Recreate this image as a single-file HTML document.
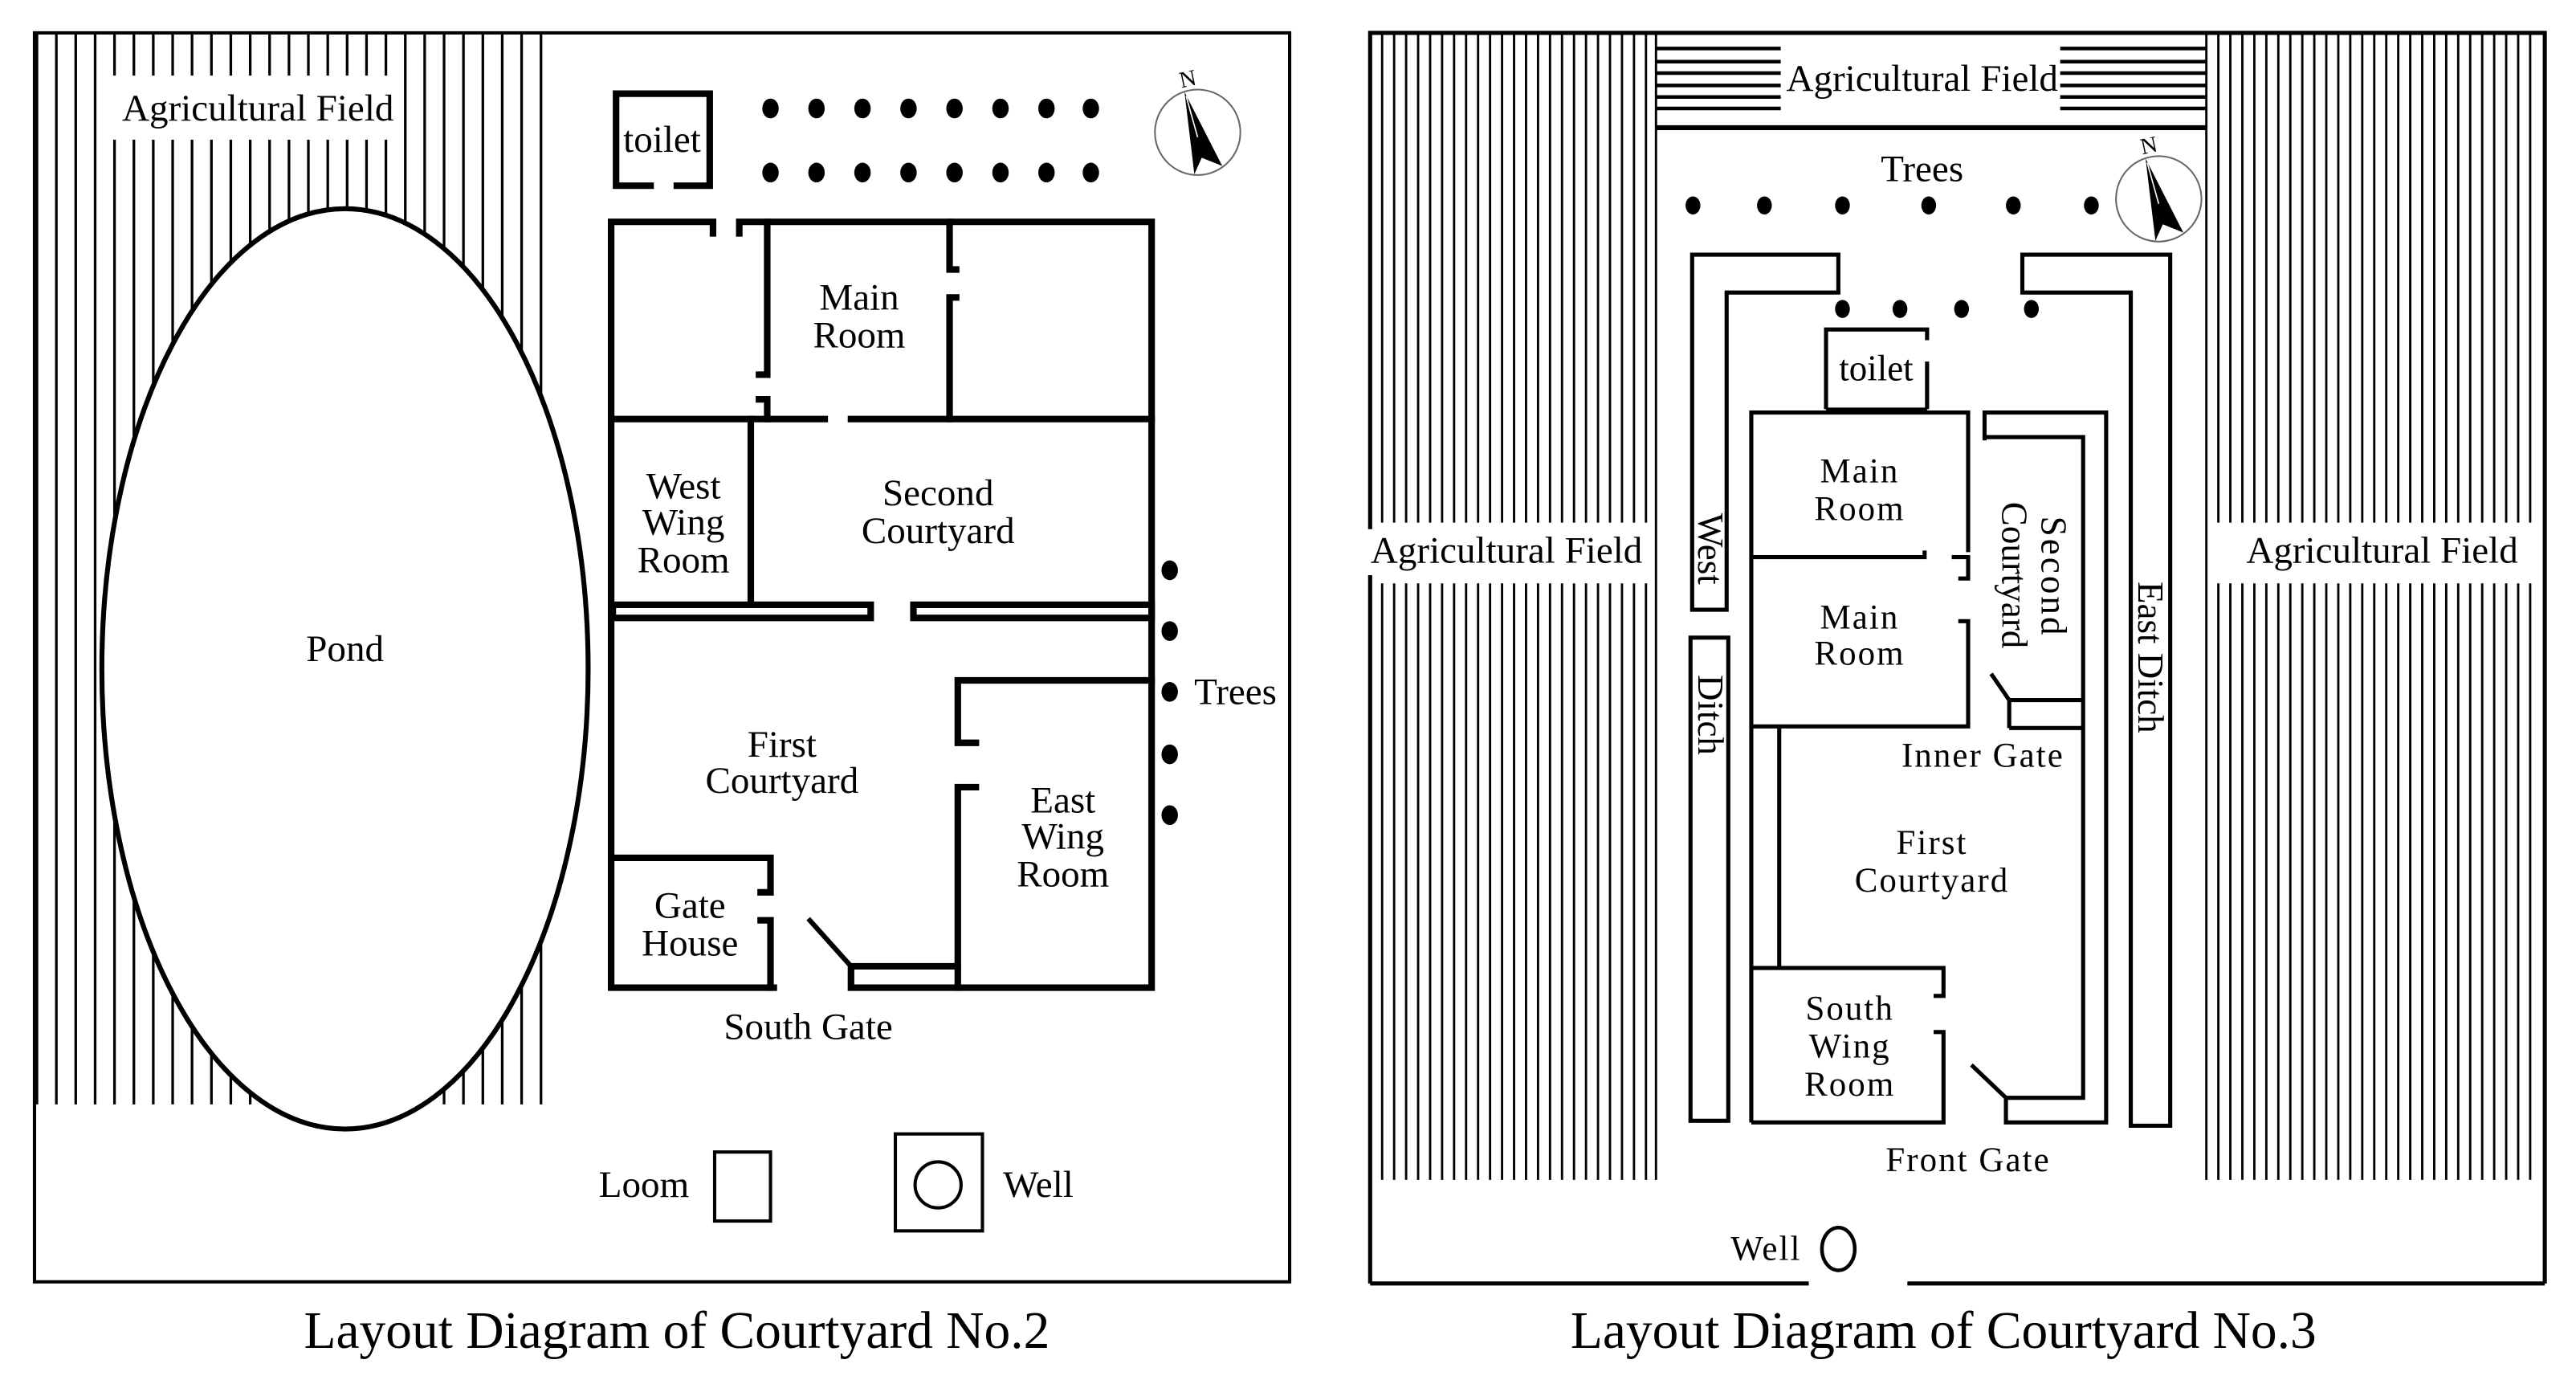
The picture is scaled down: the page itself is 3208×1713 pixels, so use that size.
<!DOCTYPE html>
<html><head><meta charset="utf-8"><style>
html,body{margin:0;padding:0;background:#fff;}
svg{display:block;}
text{font-family:"Liberation Serif",serif;fill:#000;}
</style></head><body>
<svg width="3208" height="1713" viewBox="0 0 1568 837.3" preserveAspectRatio="none" xmlns="http://www.w3.org/2000/svg">
<rect width="1568" height="838" fill="#fff"/>
<defs>
<g id="compass">
<circle cx="0" cy="0" r="26" fill="none" stroke="#666" stroke-width="1"/>
<polygon points="-8,-24.5 -2,25.5 2.5,15.5 15,20.5" fill="#000"/>
<line x1="-7" y1="-22" x2="0" y2="3" stroke="#fff" stroke-width="0.8"/>
<text x="-10" y="-27" font-size="14" font-family="Liberation Sans, sans-serif" transform="rotate(-12 -10 -27)">N</text>
</g>
</defs>

<g stroke="#000" stroke-width="1.6" id="lh"></g>
<ellipse cx="210" cy="407" rx="148" ry="280" fill="#fff" stroke="#000" stroke-width="3"/>
<rect x="21" y="20" width="764" height="760" fill="none" stroke="#000" stroke-width="2"/>
<text x="157" y="66" font-size="23" text-anchor="middle" dominant-baseline="central">Agricultural Field</text>
<text x="210" y="395" font-size="23" text-anchor="middle" dominant-baseline="central">Pond</text>

<path d="M398,113 H375 V57 H432 V113 H410" fill="none" stroke="#000" stroke-width="4"/>
<text x="403" y="85" font-size="23" text-anchor="middle" dominant-baseline="central">toilet</text>

<g fill="#000">
<ellipse cx="469" cy="66" rx="5" ry="6"/><ellipse cx="497" cy="66" rx="5" ry="6"/><ellipse cx="525" cy="66" rx="5" ry="6"/><ellipse cx="553" cy="66" rx="5" ry="6"/><ellipse cx="581" cy="66" rx="5" ry="6"/><ellipse cx="609" cy="66" rx="5" ry="6"/><ellipse cx="637" cy="66" rx="5" ry="6"/><ellipse cx="664" cy="66" rx="5" ry="6"/>
<ellipse cx="469" cy="105" rx="5" ry="6"/><ellipse cx="497" cy="105" rx="5" ry="6"/><ellipse cx="525" cy="105" rx="5" ry="6"/><ellipse cx="553" cy="105" rx="5" ry="6"/><ellipse cx="581" cy="105" rx="5" ry="6"/><ellipse cx="609" cy="105" rx="5" ry="6"/><ellipse cx="637" cy="105" rx="5" ry="6"/><ellipse cx="664" cy="105" rx="5" ry="6"/>
<ellipse cx="712" cy="347" rx="5" ry="6"/><ellipse cx="712" cy="384" rx="5" ry="6"/><ellipse cx="712" cy="421" rx="5" ry="6"/><ellipse cx="712" cy="459" rx="5" ry="6"/><ellipse cx="712" cy="496" rx="5" ry="6"/>
</g>
<use href="#compass" transform="translate(729,80.5)"/>

<g fill="none" stroke="#000" stroke-width="4" stroke-linecap="square">
<path d="M434,142 V135 H372 V601 H471"/>
<path d="M450,142 V135 H701 V601 H518 V588 H583"/>
<path d="M462,228 H467 V135"/>
<path d="M462,243 H467 V255"/>
<path d="M372,255 H502"/>
<path d="M518,255 H701"/>
<path d="M582,164 H578 V135"/>
<path d="M582,181 H578 V255"/>
<path d="M457,255 V367"/>
<rect x="373" y="368" width="157" height="8"/>
<rect x="556" y="368" width="145" height="8"/>
<path d="M594,452 H583 V414 H701"/>
<path d="M594,479 H583 V601"/>
<path d="M372,522 H469 V543 H463"/>
<path d="M463,560 H469 V601"/>
</g>
<line x1="492" y1="559" x2="518" y2="588" stroke="#000" stroke-width="3"/>

<g font-size="23" text-anchor="middle" dominant-baseline="central">
<text x="523" y="181">Main</text><text x="523" y="204">Room</text>
<text x="416" y="296">West</text><text x="416" y="318">Wing</text><text x="416" y="341">Room</text>
<text x="571" y="300">Second</text><text x="571" y="323">Courtyard</text>
<text x="476" y="453">First</text><text x="476" y="475">Courtyard</text>
<text x="647" y="487">East</text><text x="647" y="509">Wing</text><text x="647" y="532">Room</text>
<text x="420" y="551">Gate</text><text x="420" y="574">House</text>
<text x="492" y="625">South Gate</text>
<text x="752" y="421">Trees</text>
<text x="392" y="721">Loom</text>
<text x="632" y="721">Well</text>
</g>
<rect x="435" y="701" width="34" height="42" fill="none" stroke="#000" stroke-width="2"/>
<rect x="545" y="690" width="53" height="59" fill="none" stroke="#000" stroke-width="2"/>
<circle cx="571" cy="721" r="14" fill="none" stroke="#000" stroke-width="2"/>
<text x="412" y="810" font-size="32" text-anchor="middle" dominant-baseline="central">Layout Diagram of Courtyard No.2</text>

<g stroke="#000" stroke-width="1.4" id="rh"></g>
<g stroke="#000" stroke-width="2.2" id="rt"></g>
<line x1="1008" y1="77.7" x2="1343" y2="77.7" stroke="#000" stroke-width="3"/>
<rect x="1084" y="26" width="170" height="44" fill="#fff"/>
<g fill="none" stroke="#000" stroke-width="2.5">
<path d="M834,781 V20 H1549 V781"/>
<path d="M834,781 H1101"/><path d="M1161,781 H1549"/>
</g>
<text x="1170" y="48" font-size="23" text-anchor="middle" dominant-baseline="central">Agricultural Field</text>
<rect x="828" y="322" width="178" height="28" fill="#fff"/>
<text x="917" y="335" font-size="23" text-anchor="middle" dominant-baseline="central">Agricultural Field</text>
<rect x="1362" y="322" width="176" height="28" fill="#fff"/>
<text x="1450" y="335" font-size="23" text-anchor="middle" dominant-baseline="central">Agricultural Field</text>

<text x="1170" y="103" font-size="23" text-anchor="middle" dominant-baseline="central">Trees</text>
<g fill="#000">
<ellipse cx="1030.5" cy="125" rx="4.5" ry="5.5"/><ellipse cx="1074" cy="125" rx="4.5" ry="5.5"/><ellipse cx="1121.5" cy="125" rx="4.5" ry="5.5"/><ellipse cx="1174" cy="125" rx="4.5" ry="5.5"/><ellipse cx="1225.5" cy="125" rx="4.5" ry="5.5"/><ellipse cx="1273" cy="125" rx="4.5" ry="5.5"/>
<ellipse cx="1121.5" cy="188" rx="4.5" ry="5.5"/><ellipse cx="1156.5" cy="188" rx="4.5" ry="5.5"/><ellipse cx="1194" cy="188" rx="4.5" ry="5.5"/><ellipse cx="1236.5" cy="188" rx="4.5" ry="5.5"/>
</g>
<use href="#compass" transform="translate(1314,121)"/>

<g fill="none" stroke="#000" stroke-width="2.5">
<path d="M1030,155 H1119 V178 H1051 V371 H1030 Z"/>
<path d="M1231,155 H1321 V685 H1297 V178 H1231 Z"/>
<rect x="1029" y="388" width="23" height="294"/>
<path d="M1173,207 V200.5 H1111.5 V249"/>
<path d="M1173,220 V249"/>
<path d="M1066,683 V251 H1198 V336"/>
<path d="M1066,339 H1171.5 V335"/>
<path d="M1188,339 H1198 V352 H1192"/>
<path d="M1192,378 H1198 V442 H1066"/>
<path d="M1083,442 V589"/>
<path d="M1066,589 H1183 V606 H1177"/>
<path d="M1177,628 H1183 V683 H1066"/>
<path d="M1208,268 V251 H1282 V683 H1221 V668 H1268 V266 H1208"/>
<path d="M1223,426 H1268 M1223,443 H1268 M1223,426 V443"/>
<line x1="1212" y1="410" x2="1223" y2="426"/>
<line x1="1200" y1="648" x2="1221" y2="668"/>
</g>
<line x1="1111.5" y1="250" x2="1173" y2="250" stroke="#000" stroke-width="4"/>
<ellipse cx="1119" cy="760" rx="10" ry="13" fill="none" stroke="#000" stroke-width="2.2"/>

<g font-size="22" text-anchor="middle" dominant-baseline="central">
<text x="1142" y="224">toilet</text>
<text x="1041" y="334" transform="rotate(90 1041 334)">West</text>
<text x="1041" y="435" transform="rotate(90 1041 435)">Ditch</text>
<text x="1250" y="351" transform="rotate(90 1250 351)" letter-spacing="1.5">Second</text>
<text x="1226" y="350" transform="rotate(90 1226 350)">Courtyard</text>
<text x="1309" y="400" transform="rotate(90 1309 400)">East Ditch</text>
</g>
<g font-size="21" text-anchor="middle" dominant-baseline="central" letter-spacing="1">
<text x="1132" y="287">Main</text><text x="1132" y="310">Room</text>
<text x="1132" y="376">Main</text><text x="1132" y="398">Room</text>
<text x="1207" y="460">Inner Gate</text>
<text x="1176" y="513">First</text><text x="1176" y="536">Courtyard</text>
<text x="1126" y="614">South</text><text x="1126" y="637">Wing</text><text x="1126" y="660">Room</text>
<text x="1198" y="706">Front Gate</text>
<text x="1075" y="760">Well</text>
</g>
<text x="1183" y="810" font-size="32" text-anchor="middle" dominant-baseline="central">Layout Diagram of Courtyard No.3</text>
</svg>
<script>
(function(){
var ns="http://www.w3.org/2000/svg";
function add(p,a,b,c,d){var l=document.createElementNS(ns,"line");l.setAttribute("x1",a);l.setAttribute("y1",b);l.setAttribute("x2",c);l.setAttribute("y2",d);p.appendChild(l);}
var g=document.getElementById("lh");
for(var k=0;k<27;k++){
 var x=22.5+k*11.8;
 if(x>66&&x<242){add(g,x,21,x,46);add(g,x,85,x,672);}
 else add(g,x,21,x,672);
}
var r=document.getElementById("rh");
add(r,834,21,834,718);
for(var x2=841.3;x2<=1002;x2+=7.3){add(r,x2,21,x2,318);add(r,x2,355,x2,718);}
add(r,1008,21,1008,718);
add(r,1343,21,1343,718);
for(var x3=1350.3;x3<=1541;x3+=7.3){add(r,x3,21,x3,318);add(r,x3,355,x3,718);}
var t=document.getElementById("rt");
var ys=[29.5,37.5,44.5,52,59,66];
for(var i=0;i<ys.length;i++){add(t,1008,ys[i],1084,ys[i]);add(t,1254,ys[i],1343,ys[i]);}
})();
</script>
</body></html>
